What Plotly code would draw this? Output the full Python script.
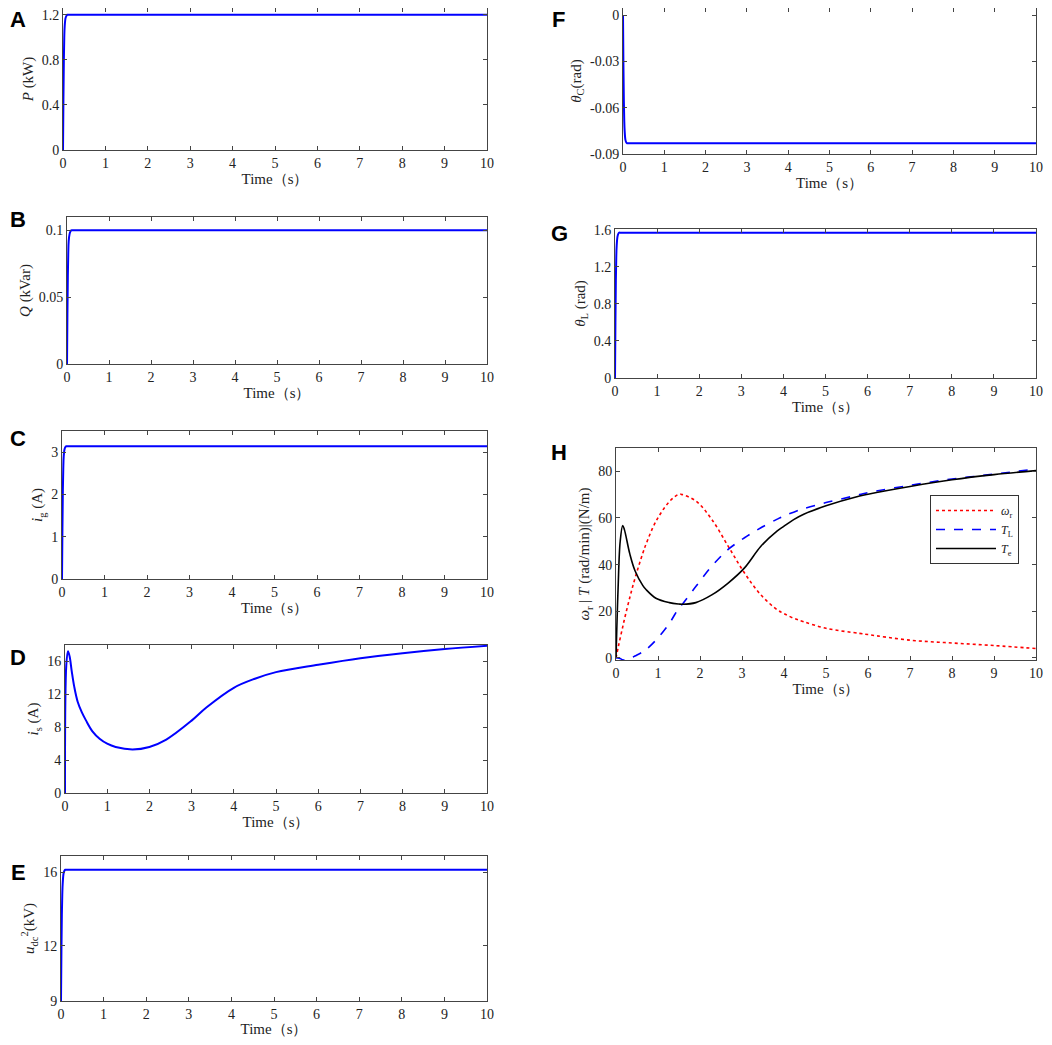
import plotly.graph_objects as go

# ---------- data ----------
t_step = [0, 0.01, 0.02, 0.03, 0.04, 0.06, 0.08, 0.1, 0.15, 10]

p_kw = [0, 0.45, 0.8, 1.0, 1.1, 1.17, 1.19, 1.2, 1.2, 1.2]
q_kvar = [0, 0.038, 0.066, 0.083, 0.092, 0.097, 0.099, 0.1, 0.1, 0.1]
i_g = [0, 1.2, 2.1, 2.6, 2.9, 3.07, 3.12, 3.14, 3.14, 3.14]
u_dc = [9, 11.8, 13.7, 14.8, 15.4, 15.95, 16.1, 16.15, 16.15, 16.15]
theta_c = [0, -0.032, -0.055, -0.068, -0.075, -0.081, -0.0825, -0.083, -0.083, -0.083]
theta_l = [0, 0.6, 1.05, 1.3, 1.43, 1.53, 1.56, 1.57, 1.57, 1.57]

t_is = [0, 0.03, 0.07, 0.11, 0.16, 0.22, 0.3, 0.4, 0.5, 0.65, 0.82, 1.0, 1.2, 1.6, 2.0, 2.4, 3.0,
        3.35, 4.0, 4.5, 5.0, 6.0, 7.0, 8.0, 9.0, 10]
i_s = [0, 15.5, 17.25, 16.6, 14.8, 12.9, 11.1, 9.8, 8.8, 7.5, 6.6, 6.0, 5.6, 5.3, 5.6, 6.5, 8.8,
       10.4, 12.8, 13.9, 14.7, 15.6, 16.4, 17.0, 17.5, 17.9]

t_h = [0, 0.05, 0.1, 0.16, 0.2, 0.33, 0.45, 0.64, 0.72, 0.95, 1.27, 1.5, 1.58, 1.9, 2.28, 2.67,
       3.06, 3.45, 3.84, 4.0, 4.23, 4.47, 5.0, 5.8, 6.0, 7.0, 8.0, 9.0, 10]
omega_r = [0, 4.3, 8.5, 13.3, 16.5, 26, 34, 45, 49, 58.5, 67, 70.2, 70, 67.3, 59.4, 47.9,
           36.4, 27, 20.6, 19, 17, 15.5, 12.7, 10.5, 10, 7.6, 6.4, 5.3, 4.0]
torque_l = [0, 0, -0.3, -0.8, -0.9, -0.3, 0.8, 2.6, 3.6, 7.6, 14.8, 21.5, 23, 30.6, 39.3, 46.5,
            51.5, 55.8, 59.5, 60.9, 62.5, 64, 66.6, 70, 70.9, 74, 76.7, 78.8, 81]
torque_e = [0, 30, 50, 56.8, 55, 44.5, 37.5, 31, 29.2, 25.6, 23.7, 23.1, 23.0, 23.7, 27, 32.1,
            38.6, 47.9, 54.5, 56.5, 59.3, 61.6, 65.2, 69.4, 70.2, 73.5, 76.4, 78.6, 80.3]

x_ticks = list(range(11))

# ---------- panels ----------
# the page keeps an 8px body margin: size the figure so it fits the window and shift positions by it
OFF = 8
W, H = 1052 - OFF, 1045 - 2 * OFF
panels = [
    # letter, box (x0, x1, ytop, ybottom) in page px, y range, y ticks, y title
    ("A", (63, 487, 8, 150), [0, 1.26], [0, 0.4, 0.8, 1.2], ["0", "0.4", "0.8", "1.2"], "<i>P</i> (kW)"),
    ("B", (67, 487, 217, 364), [0, 0.11], [0, 0.05, 0.1], ["0", "0.05", "0.1"], "<i>Q</i> (kVar)"),
    ("C", (62, 487, 431, 579), [0, 3.5], [0, 1, 2, 3], ["0", "1", "2", "3"], "<i>i</i><sub>g</sub> (A)"),
    ("D", (65, 487, 645, 793), [0, 18], [0, 4, 8, 12, 16], ["0", "4", "8", "12", "16"], "<i>i</i><sub>s</sub> (A)"),
    ("E", (61, 487, 856, 1001), [9, 16.9], [9, 12, 16], ["9", "12", "16"], "<i>u</i><sub>dc</sub><sup>2</sup>(kV)"),
    ("F", (623, 1036, 8, 154), [-0.09, 0.0046], [-0.09, -0.06, -0.03, 0], ["-0.09", "-0.06", "-0.03", "0"],
     "<i>θ</i><sub>C</sub>(rad)"),
    ("G", (615, 1036, 229, 378), [0, 1.61], [0, 0.4, 0.8, 1.2, 1.6], ["0", "0.4", "0.8", "1.2", "1.6"],
     "<i>θ</i><sub>L</sub> (rad)"),
    ("H", (616, 1036, 448, 660), [-0.9, 90], [0, 20, 40, 60, 80], ["0", "20", "40", "60", "80"],
     "<i>ω</i><sub>r</sub> | <i>T</i> (rad/min)|(N/m)"),
]
label_pos = {"A": (18, 20), "B": (18, 220), "C": (18, 438), "D": (18, 657), "E": (18, 872),
             "F": (558, 20), "G": (559, 233), "H": (559, 453)}

series = {
    "A": [(t_step, p_kw)], "B": [(t_step, q_kvar)], "C": [(t_step, i_g)],
    "D": [(t_is, i_s)], "E": [(t_step, u_dc)], "F": [(t_step, theta_c)], "G": [(t_step, theta_l)],
}


def px_x(x):
    return (x - OFF) / W


def px_y(y):
    return min(1.0, max(0.0, 1 - (y - OFF) / H))


serif = "Liberation Serif, Times New Roman, serif"
axis_col = "#444444"
fig = go.Figure()
layout = {}
annotations = []

for k, (letter, box, yr, tv, tt, ytitle) in enumerate(panels):
    n = k + 1
    suffix = "" if n == 1 else str(n)
    x0, x1, yt, yb = box
    common = dict(showline=True, linecolor=axis_col, linewidth=1, mirror="ticks", ticks="inside",
                  ticklen=4, tickcolor=axis_col, showgrid=False, zeroline=False, automargin=False,
                  ticklabeloverflow="allow",
                  tickfont=dict(family=serif, size=14, color="#222"))
    layout["xaxis" + suffix] = dict(common, domain=[px_x(x0), px_x(x1)], range=[0, 10], tickvals=x_ticks,
                                    anchor="y" + suffix,
                                    title=dict(text="Time（s）", font=dict(family=serif, size=15, color="#222"),
                                               standoff=2))
    layout["yaxis" + suffix] = dict(common, domain=[px_y(yb), px_y(yt)], range=yr, tickvals=tv, ticktext=tt,
                                    anchor="x" + suffix,
                                    title=dict(text=ytitle, font=dict(family=serif, size=15, color="#222"),
                                               standoff=4))
    lx, ly = label_pos[letter]
    annotations.append(dict(text="<b>" + letter + "</b>", x=px_x(lx), y=px_y(ly), xref="paper", yref="paper",
                            xanchor="center", yanchor="middle", showarrow=False,
                            font=dict(family="Liberation Sans, Arial, sans-serif", size=22, color="black")))
    if letter in series:
        for xs, ys in series[letter]:
            fig.add_trace(go.Scatter(x=xs, y=ys, mode="lines", line=dict(color="#0000FF", width=2, shape="spline"),
                                     xaxis="x" + suffix, yaxis="y" + suffix, showlegend=False))

# panel H with legend
fig.add_trace(go.Scatter(x=t_h, y=omega_r, mode="lines", name="<i>ω</i><sub>r</sub>",
                         line=dict(color="#FF0000", width=1.6, dash="dot", shape="spline"), xaxis="x8", yaxis="y8"))
fig.add_trace(go.Scatter(x=t_h, y=torque_l, mode="lines", name="<i>T</i><sub>L</sub>",
                         line=dict(color="#0000FF", width=1.6, dash="dash", shape="spline"), xaxis="x8", yaxis="y8"))
fig.add_trace(go.Scatter(x=t_h, y=torque_e, mode="lines", name="<i>T</i><sub>e</sub>",
                         line=dict(color="black", width=1.6, shape="spline"), xaxis="x8", yaxis="y8"))

fig.update_layout(
    width=W, height=H, margin=dict(l=0, r=0, t=0, b=0),
    paper_bgcolor="white", plot_bgcolor="white",
    annotations=annotations,
    legend=dict(x=px_x(930), y=px_y(495), xanchor="left", yanchor="top", bordercolor="#333", borderwidth=1,
                bgcolor="white", font=dict(family=serif, size=12, color="#222"), itemwidth=60,
                tracegroupgap=0, traceorder="normal"),
    **layout,
)

fig.write_html("out.html")
